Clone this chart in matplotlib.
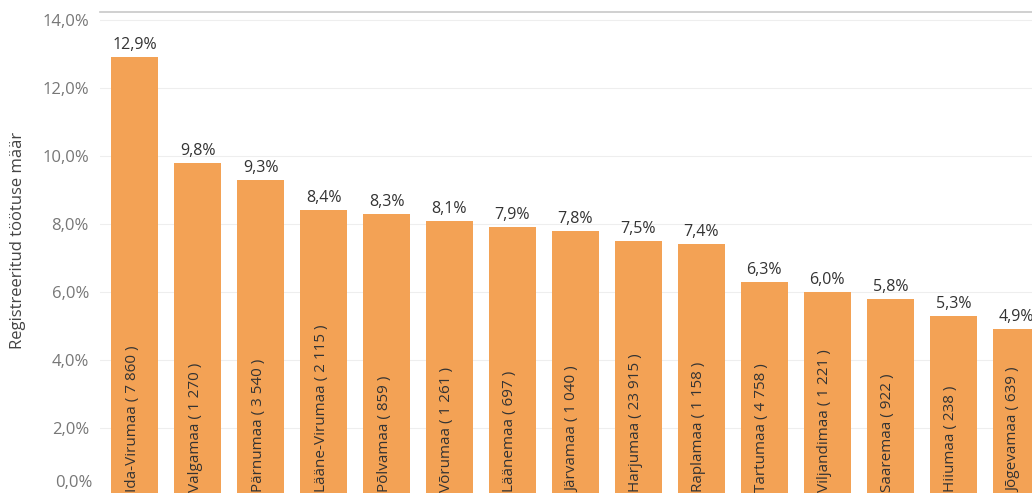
import matplotlib
matplotlib.use("Agg")
import matplotlib.pyplot as plt
from matplotlib.ticker import FuncFormatter
from matplotlib.transforms import blended_transform_factory

counties = ["Ida-Virumaa", "Valgamaa", "Pärnumaa", "Lääne-Virumaa", "Põlvamaa", "Võrumaa",
            "Läänemaa", "Järvamaa", "Harjumaa", "Raplamaa", "Tartumaa", "Viljandimaa",
            "Saaremaa", "Hiiumaa", "Jõgevamaa"]
counts = ["7 860", "1 270", "3 540", "2 115", "859", "1 261", "697", "1 040", "23 915",
          "1 158", "4 758", "1 221", "922", "238", "639"]
rates = [12.9, 9.8, 9.3, 8.4, 8.3, 8.1, 7.9, 7.8, 7.5, 7.4, 6.3, 6.0, 5.8, 5.3, 4.9]
yticks = [0, 2, 4, 6, 8, 10, 12, 14]

plt.rcParams['font.family'] = ['Open Sans', 'DejaVu Sans']

def pct(v):
    return f"{v:.1f}%".replace(".", ",")

fig = plt.figure(figsize=(10.32, 4.93), dpi=100)
ax = fig.add_axes([100/1032, 0.0, 932/1032, (493-12)/493])

x = list(range(len(rates)))
ax.bar(x, rates, width=0.75, color="#F3A255", zorder=2)

for i, (c, n, r) in enumerate(zip(counties, counts, rates)):
    ax.text(i, r + 0.12, pct(r), ha="center", va="bottom",
            fontsize=11.5, color="#333333", zorder=3)
    ax.text(i - 0.04, 0.12, f"{c} ( {n} )", rotation=90, ha="center", va="bottom",
            fontsize=11, color="#333333", zorder=3)

ax.set_xlim(-0.55, 14.25)
ax.set_ylim(0.09, 14.235)
ax.set_yticks(yticks[1:])
ax.yaxis.set_major_formatter(FuncFormatter(lambda v, p: pct(v)))
ax.tick_params(axis="y", length=0, labelsize=12, labelcolor="#777777", pad=8)
# lowest tick label, sits just inside the bottom edge
trans = blended_transform_factory(ax.transAxes, ax.transData)
ax.text(-8/932, 0.38, pct(yticks[0]), transform=trans, ha="right", va="center",
        fontsize=12, color="#777777")
ax.set_xticks([])
ax.grid(axis="y", color="#eeeeee", linewidth=0.8, zorder=0)
for s in ["left", "right", "bottom"]:
    ax.spines[s].set_visible(False)
ax.spines["top"].set_color("#c8c8c8")
ax.spines["top"].set_linewidth(1.2)

fig.text(18/1032, 1 - 240/493, "Registreeritud töötuse määr", rotation=90,
         ha="center", va="center", fontsize=12, color="#444444")

fig.savefig("out.png", dpi=100)
